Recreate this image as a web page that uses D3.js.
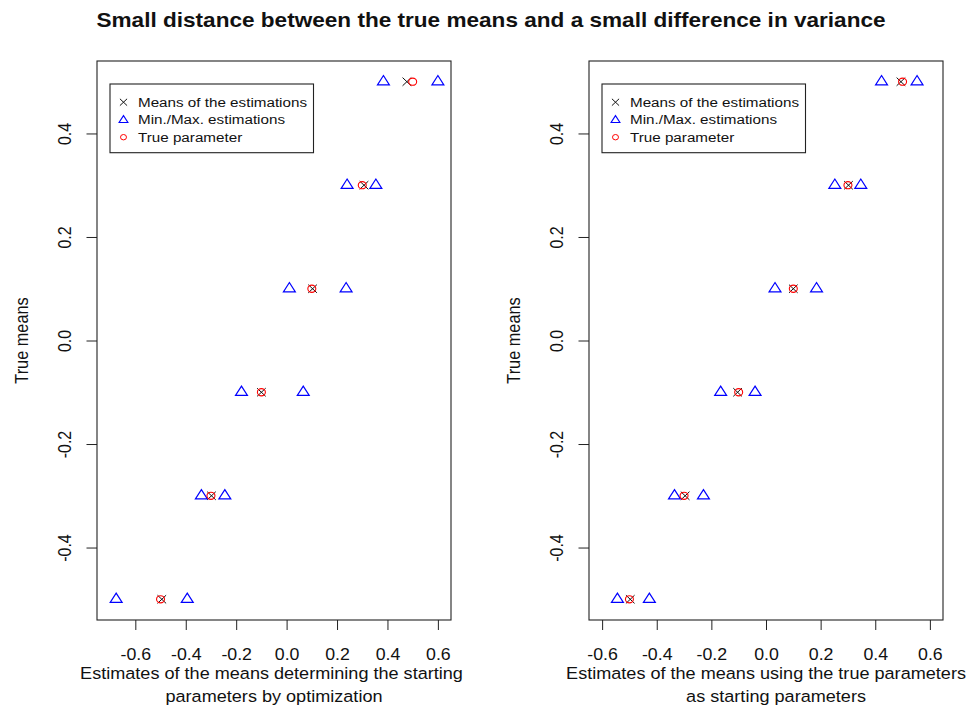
<!DOCTYPE html>
<html>
<head>
<meta charset="utf-8">
<script src="https://cdn.jsdelivr.net/npm/d3@7"></script>
<style>
  html, body { margin: 0; padding: 0; background: #fff; }
  svg text { font-family: "Liberation Sans", Arial, sans-serif; fill: #111; }
</style>
</head>
<body>
<svg id="chart" width="970" height="711"></svg>
<script>
// True parameter values (one row per simulated mean)
const trueMeans = [-0.5, -0.3, -0.1, 0.1, 0.3, 0.5];

// Panel 1: starting parameters chosen by optimization
const optMeanEst = [-0.495, -0.298, -0.100, 0.103, 0.307, 0.477];
const optMinEst  = [-0.676, -0.338, -0.179, 0.011, 0.240, 0.384];
const optMaxEst  = [-0.394, -0.245, 0.066, 0.236, 0.354, 0.600];

// Panel 2: true parameters used as starting values
const tsMeanEst = [-0.497, -0.296, -0.104, 0.100, 0.302, 0.494];
const tsMinEst  = [-0.544, -0.335, -0.166, 0.033, 0.252, 0.423];
const tsMaxEst  = [-0.427, -0.229, -0.040, 0.185, 0.347, 0.553];

// Axis limits and ticks
const xLimOpt = [-0.7, 0.6];
const xLimTs = [-0.6, 0.6];
const yLim = [-0.5, 0.5];
const xTicks = [-0.6, -0.4, -0.2, 0.0, 0.2, 0.4, 0.6];
const yTicks = [-0.4, -0.2, 0.0, 0.2, 0.4];

// Text
const mainTitle = "Small distance between the true means and a small difference in variance";
const yTitle = "True means";
const xTitleOpt = ["Estimates of the means determining the starting ", "parameters by optimization"];
const xTitleTs = ["Estimates of the means using the true parameters", "    as starting parameters"];
const legendLabels = ["Means of the estimations", "Min./Max. estimations", "True parameter"];

// Glyphs are drawn slightly wide
const SX = 1.11;
const BLUE = "#0000ff", RED = "#ff0000", INK = "#222";

// R-style 4% range extension
const expand = ([a, b]) => [a - 0.04 * (b - a), b + 0.04 * (b - a)];
// one decimal, plain hyphen for negatives
const fmt = d => d3.format(".1f")(d).replace("\u2212", "-");

const svg = d3.select("#chart");

svg.append("text")
  .attr("transform", `translate(491,26.5) scale(${SX},1)`)
  .attr("text-anchor", "middle")
  .style("font-size", "20.35px")
  .style("font-weight", "bold")
  .text(mainTitle);

const panels = [
  { x0: 97, x1: 451, xLim: xLimOpt, mean: optMeanEst, min: optMinEst, max: optMaxEst, xTitle: xTitleOpt },
  { x0: 589, x1: 943, xLim: xLimTs, mean: tsMeanEst, min: tsMinEst, max: tsMaxEst, xTitle: xTitleTs }
];
const plotTop = 61, plotBottom = 620;

const y = d3.scaleLinear().domain(expand(yLim)).range([plotBottom, plotTop]);

function triPath(cx, cy, r) {
  // R pch=2: centroid on the point
  const t1 = r * Math.sqrt(3) / 2 * SX, t2 = r / 2;
  return `M${cx},${cy - r}L${cx + t1},${cy + t2}L${cx - t1},${cy + t2}Z`;
}
function crossPath(cx, cy, h) {
  const hx = h * SX * 0.95;
  return `M${cx - hx},${cy - h}L${cx + hx},${cy + h}M${cx - hx},${cy + h}L${cx + hx},${cy - h}`;
}

panels.forEach(p => {
  const x = d3.scaleLinear().domain(expand(p.xLim)).range([p.x0, p.x1]);
  const g = svg.append("g");

  // x axis
  const ax = g.append("g")
    .attr("transform", `translate(0,${plotBottom})`)
    .call(d3.axisBottom(x).tickValues(xTicks).tickSize(10).tickSizeOuter(0).tickFormat(fmt));
  ax.select(".domain").remove();
  ax.selectAll(".tick line").attr("stroke", INK);
  ax.selectAll(".tick text")
    .attr("y", null).attr("dy", null)
    .attr("transform", `translate(0,40) scale(${SX},1)`)
    .attr("fill", "#111")
    .style("font-size", "16px")
    .style("font-family", "Liberation Sans, Arial, sans-serif");

  // y axis
  const ay = g.append("g")
    .attr("transform", `translate(${p.x0},0)`)
    .call(d3.axisLeft(y).tickValues(yTicks).tickSize(10.5).tickSizeOuter(0).tickFormat(fmt));
  ay.select(".domain").remove();
  ay.selectAll(".tick line").attr("stroke", INK);
  ay.selectAll(".tick text")
    .attr("x", null).attr("dy", null)
    .attr("text-anchor", "middle")
    .attr("transform", `translate(-26,0) scale(${SX},1) rotate(-90)`)
    .attr("fill", "#111")
    .style("font-size", "16px")
    .style("font-family", "Liberation Sans, Arial, sans-serif");

  // plot box
  g.append("rect")
    .attr("x", p.x0).attr("y", plotTop)
    .attr("width", p.x1 - p.x0).attr("height", plotBottom - plotTop)
    .attr("fill", "none").attr("stroke", INK).attr("stroke-width", 1.1);

  // axis titles
  const cx = (p.x0 + p.x1) / 2;
  p.xTitle.forEach((line, i) => {
    g.append("text")
      .attr("xml:space", "preserve")
      .style("white-space", "pre")
      .attr("transform", `translate(${cx},${678.5 + i * 23}) scale(${SX},1)`)
      .attr("text-anchor", "middle")
      .style("font-size", "16.3px")
      .text(line);
  });
  g.append("text")
    .attr("transform", `translate(${p.x0 - 69},${(plotTop + plotBottom) / 2}) scale(${SX},1) rotate(-90)`)
    .attr("text-anchor", "middle")
    .style("font-size", "16.3px")
    .text(yTitle);

  // means of the estimations
  g.append("g").selectAll("path").data(trueMeans).join("path")
    .attr("d", (d, i) => crossPath(x(p.mean[i]), y(d), 4.1))
    .attr("stroke", "#111").attr("stroke-width", 1).attr("fill", "none");

  // min / max estimations
  const tri = g.append("g");
  tri.selectAll("path.min").data(trueMeans).join("path").attr("class", "min")
    .attr("d", (d, i) => triPath(x(p.min[i]), y(d), 6.2));
  tri.selectAll("path.max").data(trueMeans).join("path").attr("class", "max")
    .attr("d", (d, i) => triPath(x(p.max[i]), y(d), 6.2));
  tri.selectAll("path").attr("stroke", BLUE).attr("stroke-width", 1.2).attr("fill", "none");

  // true parameter
  g.append("g").selectAll("ellipse").data(trueMeans).join("ellipse")
    .attr("cx", d => x(d)).attr("cy", d => y(d))
    .attr("rx", 3.6 * SX).attr("ry", 3.6)
    .attr("stroke", RED).attr("stroke-width", 1.1).attr("fill", "none");

  // legend
  const lx = p.x0 + 13, ly = 84, lw = 203.5, lh = 68.7;
  const lg = g.append("g");
  lg.append("rect").attr("x", lx).attr("y", ly).attr("width", lw).attr("height", lh)
    .attr("fill", "#fff").attr("stroke", INK).attr("stroke-width", 1.1);
  const rows = lg.selectAll("g.row").data(legendLabels).join("g").attr("class", "row")
    .attr("transform", (d, i) => `translate(${lx + 13.5},${102.2 + i * 17.5})`);
  rows.filter((d, i) => i === 0).append("path")
    .attr("d", crossPath(0, 0, 3.4)).attr("stroke", "#111").attr("fill", "none");
  rows.filter((d, i) => i === 1).append("path")
    .attr("d", triPath(0, 0.5, 4.6)).attr("stroke", BLUE).attr("stroke-width", 1.1).attr("fill", "none");
  rows.filter((d, i) => i === 2).append("ellipse")
    .attr("rx", 2.7 * SX).attr("ry", 2.7).attr("stroke", RED).attr("fill", "none");
  rows.append("text")
    .attr("transform", `translate(14.5,4.7) scale(${SX},1)`)
    .style("font-size", "13.7px")
    .text(d => d);
});
</script>
</body>
</html>
